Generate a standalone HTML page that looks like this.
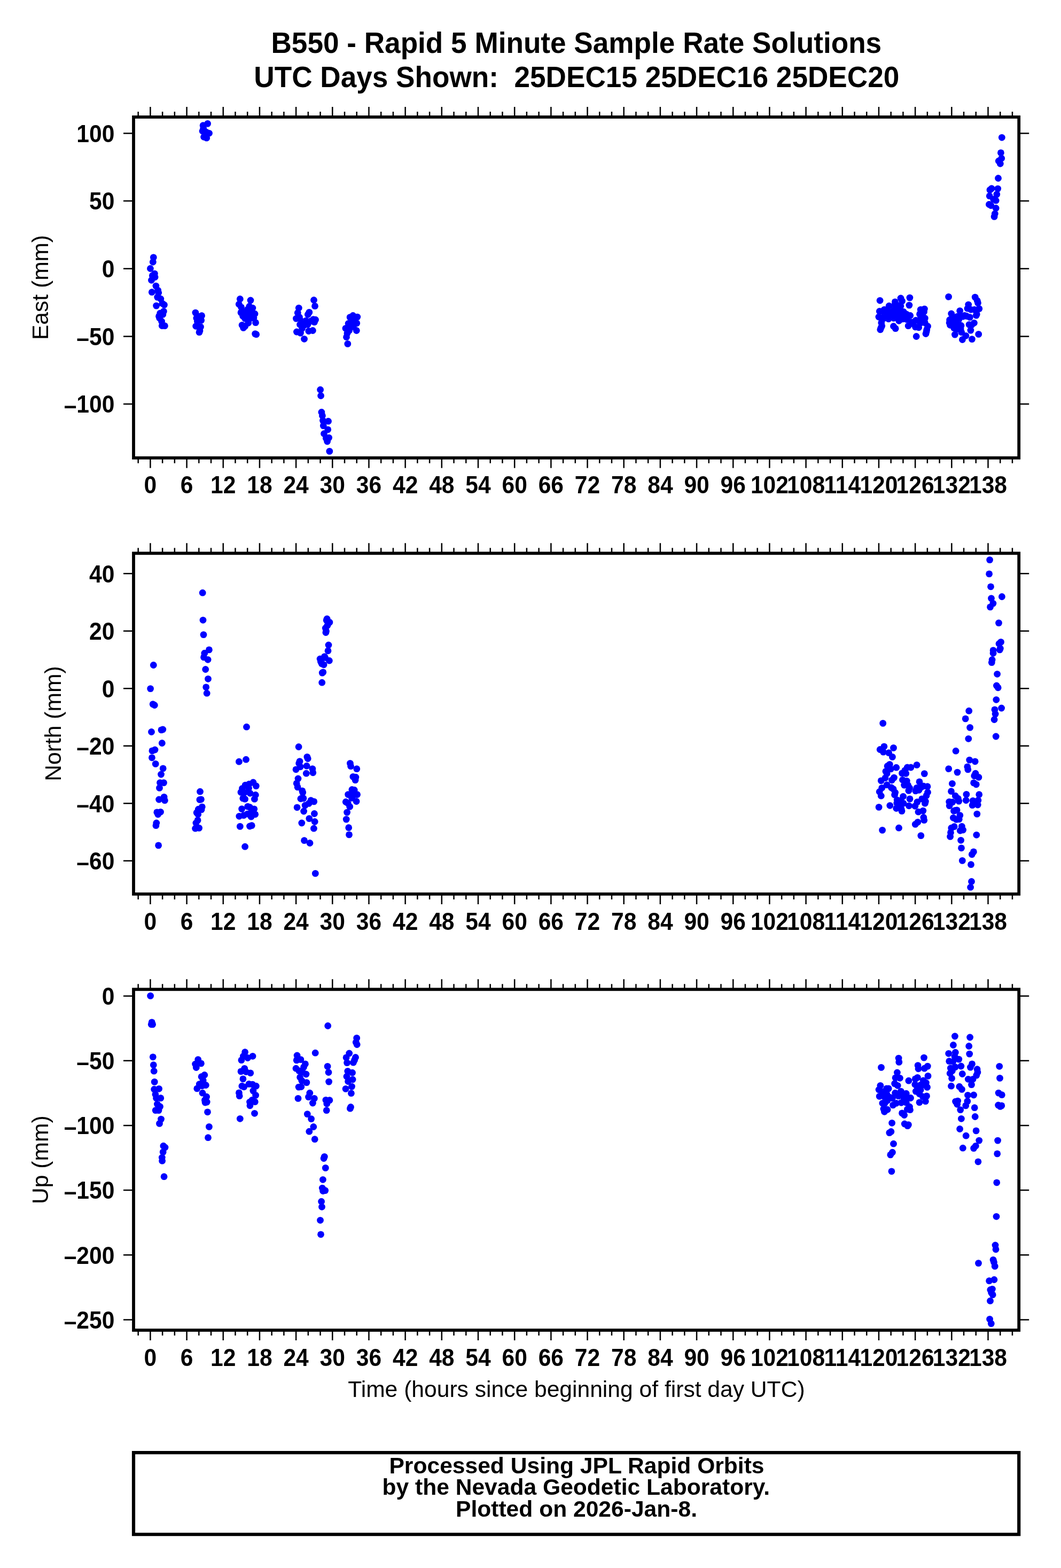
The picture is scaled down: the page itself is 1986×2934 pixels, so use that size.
<!DOCTYPE html>
<html lang="en"><head><meta charset="utf-8"><title>B550 - Rapid 5 Minute Sample Rate Solutions</title>
<style>html,body{margin:0;padding:0;background:#fff}svg{display:block}text{font-family:"Liberation Sans",sans-serif;fill:#000}.b{font-weight:bold}.f{fill:none;stroke:#000;stroke-width:5.8;stroke-linejoin:miter}.t{stroke:#000;stroke-width:2.5;stroke-linecap:butt;fill:none}.d circle{fill:#0000ff}</style></head><body>
<svg width="1986" height="2934" viewBox="0 0 1986 2934" role="img" aria-label="B550 rapid 5 minute sample rate solutions: East, North and Up time series">
<rect width="1986" height="2934" fill="#fff"/>
<text class="b" transform="translate(1078.80 99.00) scale(1 1.05)" font-size="53.15" text-anchor="middle">B550 - Rapid 5 Minute Sample Rate Solutions</text>
<text class="b" transform="translate(1079.30 163.30) scale(1 1.05)" font-size="53.15" text-anchor="middle" xml:space="preserve" style="white-space:pre">UTC Days Shown:  25DEC15 25DEC16 25DEC20</text>
<g>
<g class="d"><circle cx="287.3" cy="481.6" r="6.4"/><circle cx="286.3" cy="490.3" r="6.4"/><circle cx="281.4" cy="502.5" r="6.4"/><circle cx="289.4" cy="512.1" r="6.4"/><circle cx="285.3" cy="515.7" r="6.4"/><circle cx="290.1" cy="518.5" r="6.4"/><circle cx="283.5" cy="524.3" r="6.4"/><circle cx="291.9" cy="535.1" r="6.4"/><circle cx="295.7" cy="543.4" r="6.4"/><circle cx="284.3" cy="546.7" r="6.4"/><circle cx="296.7" cy="548" r="6.4"/><circle cx="294.7" cy="556.1" r="6.4"/><circle cx="300.8" cy="559.2" r="6.4"/><circle cx="292.6" cy="572.1" r="6.4"/><circle cx="303.8" cy="567.8" r="6.4"/><circle cx="307.4" cy="570.4" r="6.4"/><circle cx="306.4" cy="582.6" r="6.4"/><circle cx="299.8" cy="586.1" r="6.4"/><circle cx="304.8" cy="588.4" r="6.4"/><circle cx="297.5" cy="591.7" r="6.4"/><circle cx="298.7" cy="595.3" r="6.4"/><circle cx="302.6" cy="601.4" r="6.4"/><circle cx="303.3" cy="609.5" r="6.4"/><circle cx="308.4" cy="609.7" r="6.4"/><circle cx="365.9" cy="585.1" r="6.4"/><circle cx="377.6" cy="590.7" r="6.4"/><circle cx="367.9" cy="595.3" r="6.4"/><circle cx="376.6" cy="599.4" r="6.4"/><circle cx="369.4" cy="601.4" r="6.4"/><circle cx="372" cy="592.2" r="6.4"/><circle cx="366.7" cy="610.3" r="6.4"/><circle cx="375.5" cy="611.6" r="6.4"/><circle cx="374" cy="618.7" r="6.4"/><circle cx="373" cy="621.7" r="6.4"/><circle cx="388.6" cy="231.4" r="6.4"/><circle cx="380.1" cy="234.7" r="6.4"/><circle cx="380.7" cy="240.4" r="6.4"/><circle cx="379.1" cy="245.2" r="6.4"/><circle cx="385.5" cy="246.8" r="6.4"/><circle cx="391.5" cy="249.3" r="6.4"/><circle cx="381.6" cy="256.3" r="6.4"/><circle cx="386.7" cy="258.2" r="6.4"/><circle cx="383.9" cy="252.5" r="6.4"/><circle cx="449.3" cy="559.5" r="6.4"/><circle cx="469" cy="562" r="6.4"/><circle cx="447.3" cy="569.2" r="6.4"/><circle cx="451.5" cy="574.8" r="6.4"/><circle cx="466.8" cy="573.2" r="6.4"/><circle cx="472.9" cy="576.3" r="6.4"/><circle cx="463.7" cy="578.8" r="6.4"/><circle cx="451" cy="584.9" r="6.4"/><circle cx="458.7" cy="582.9" r="6.4"/><circle cx="468.8" cy="584.9" r="6.4"/><circle cx="477" cy="587.2" r="6.4"/><circle cx="454.6" cy="591.5" r="6.4"/><circle cx="462.7" cy="590" r="6.4"/><circle cx="470.9" cy="592" r="6.4"/><circle cx="474.9" cy="595.1" r="6.4"/><circle cx="458.7" cy="596.1" r="6.4"/><circle cx="465.8" cy="598.2" r="6.4"/><circle cx="478.5" cy="603.7" r="6.4"/><circle cx="464.8" cy="604.3" r="6.4"/><circle cx="453.1" cy="608.3" r="6.4"/><circle cx="458.7" cy="610.4" r="6.4"/><circle cx="455.6" cy="613.4" r="6.4"/><circle cx="477.6" cy="624.6" r="6.4"/><circle cx="479.7" cy="625.7" r="6.4"/><circle cx="587.5" cy="561.5" r="6.4"/><circle cx="589.5" cy="572.7" r="6.4"/><circle cx="559.3" cy="576.3" r="6.4"/><circle cx="557.3" cy="585.4" r="6.4"/><circle cx="578.8" cy="584.4" r="6.4"/><circle cx="576.3" cy="588.5" r="6.4"/><circle cx="554.4" cy="596.1" r="6.4"/><circle cx="560.5" cy="593.6" r="6.4"/><circle cx="586.5" cy="597.6" r="6.4"/><circle cx="590.5" cy="598.2" r="6.4"/><circle cx="564.6" cy="601.2" r="6.4"/><circle cx="572.7" cy="600.2" r="6.4"/><circle cx="580.9" cy="601.2" r="6.4"/><circle cx="588.5" cy="602.7" r="6.4"/><circle cx="561.5" cy="607.3" r="6.4"/><circle cx="569.7" cy="608.3" r="6.4"/><circle cx="575.8" cy="607.3" r="6.4"/><circle cx="565.6" cy="614.4" r="6.4"/><circle cx="555.4" cy="621" r="6.4"/><circle cx="562.5" cy="623.1" r="6.4"/><circle cx="577.8" cy="619.5" r="6.4"/><circle cx="585.4" cy="618.5" r="6.4"/><circle cx="569.5" cy="634.3" r="6.4"/><circle cx="660.7" cy="590.5" r="6.4"/><circle cx="655.1" cy="593.6" r="6.4"/><circle cx="668.8" cy="593.1" r="6.4"/><circle cx="662.2" cy="598.2" r="6.4"/><circle cx="652.1" cy="605.3" r="6.4"/><circle cx="659.2" cy="604.3" r="6.4"/><circle cx="667.8" cy="604.8" r="6.4"/><circle cx="647" cy="614.4" r="6.4"/><circle cx="655.1" cy="612.4" r="6.4"/><circle cx="661.2" cy="611.4" r="6.4"/><circle cx="667.3" cy="618.5" r="6.4"/><circle cx="650" cy="623.6" r="6.4"/><circle cx="653.6" cy="618.5" r="6.4"/><circle cx="648.5" cy="630.7" r="6.4"/><circle cx="650.8" cy="643.4" r="6.4"/><circle cx="599.6" cy="729.2" r="6.4"/><circle cx="600.6" cy="740.5" r="6.4"/><circle cx="601.9" cy="771.2" r="6.4"/><circle cx="603.4" cy="777.9" r="6.4"/><circle cx="604.5" cy="787.1" r="6.4"/><circle cx="614.5" cy="788.2" r="6.4"/><circle cx="605.3" cy="796.6" r="6.4"/><circle cx="613.7" cy="803.8" r="6.4"/><circle cx="606.5" cy="811.5" r="6.4"/><circle cx="615.6" cy="819.1" r="6.4"/><circle cx="610.3" cy="819.9" r="6.4"/><circle cx="612.6" cy="826" r="6.4"/><circle cx="616.8" cy="844.4" r="6.4"/><circle cx="1647.1" cy="562.3" r="6.4"/><circle cx="1702.9" cy="557.1" r="6.4"/><circle cx="1701.9" cy="571.1" r="6.4"/><circle cx="1686" cy="558" r="6.4"/><circle cx="1688.5" cy="563.4" r="6.4"/><circle cx="1675.4" cy="564.9" r="6.4"/><circle cx="1664.1" cy="572.5" r="6.4"/><circle cx="1655.2" cy="579.4" r="6.4"/><circle cx="1646.3" cy="582.5" r="6.4"/><circle cx="1644.9" cy="593" r="6.4"/><circle cx="1649.8" cy="603.9" r="6.4"/><circle cx="1650.7" cy="610.1" r="6.4"/><circle cx="1647.8" cy="616.8" r="6.4"/><circle cx="1672.5" cy="610.5" r="6.4"/><circle cx="1676.2" cy="614.7" r="6.4"/><circle cx="1715.2" cy="629.5" r="6.4"/><circle cx="1733" cy="624.5" r="6.4"/><circle cx="1734.8" cy="616.8" r="6.4"/><circle cx="1736.6" cy="610.5" r="6.4"/><circle cx="1730.4" cy="578.1" r="6.4"/><circle cx="1723.2" cy="579.4" r="6.4"/><circle cx="1729.5" cy="583.4" r="6.4"/><circle cx="1721.5" cy="587.9" r="6.4"/><circle cx="1731.3" cy="595.4" r="6.4"/><circle cx="1703.7" cy="590.5" r="6.4"/><circle cx="1700.1" cy="609.7" r="6.4"/><circle cx="1713.5" cy="611.9" r="6.4"/><circle cx="1719.7" cy="612.8" r="6.4"/><circle cx="1714.3" cy="599.4" r="6.4"/><circle cx="1682.7" cy="600.3" r="6.4"/><circle cx="1663.2" cy="596.8" r="6.4"/><circle cx="1680.5" cy="571.8" r="6.4"/><circle cx="1685.9" cy="572.7" r="6.4"/><circle cx="1673.4" cy="579.8" r="6.4"/><circle cx="1682.3" cy="581.6" r="6.4"/><circle cx="1691.2" cy="583.4" r="6.4"/><circle cx="1664.5" cy="583.4" r="6.4"/><circle cx="1655.6" cy="587.9" r="6.4"/><circle cx="1673.4" cy="590.5" r="6.4"/><circle cx="1682.3" cy="591.4" r="6.4"/><circle cx="1691.2" cy="592.3" r="6.4"/><circle cx="1697.4" cy="597.6" r="6.4"/><circle cx="1664.5" cy="590.5" r="6.4"/><circle cx="1653.8" cy="595.9" r="6.4"/><circle cx="1722.4" cy="597.6" r="6.4"/><circle cx="1726.8" cy="590.5" r="6.4"/><circle cx="1731.3" cy="603.9" r="6.4"/><circle cx="1709" cy="605.7" r="6.4"/><circle cx="1722.4" cy="604.8" r="6.4"/><circle cx="1696.5" cy="587.9" r="6.4"/><circle cx="1775.6" cy="555.4" r="6.4"/><circle cx="1825.2" cy="556.1" r="6.4"/><circle cx="1829.2" cy="562.5" r="6.4"/><circle cx="1830.5" cy="566.9" r="6.4"/><circle cx="1812.7" cy="570.1" r="6.4"/><circle cx="1811" cy="577.2" r="6.4"/><circle cx="1832.8" cy="577.6" r="6.4"/><circle cx="1823.9" cy="579.4" r="6.4"/><circle cx="1796.7" cy="581.6" r="6.4"/><circle cx="1780.7" cy="587" r="6.4"/><circle cx="1828.3" cy="587.9" r="6.4"/><circle cx="1827.4" cy="590.1" r="6.4"/><circle cx="1802.5" cy="592.3" r="6.4"/><circle cx="1815.4" cy="593.6" r="6.4"/><circle cx="1787.4" cy="594.1" r="6.4"/><circle cx="1777.6" cy="598.5" r="6.4"/><circle cx="1794.5" cy="598.5" r="6.4"/><circle cx="1785.6" cy="602.1" r="6.4"/><circle cx="1823.4" cy="604.3" r="6.4"/><circle cx="1814.1" cy="607.4" r="6.4"/><circle cx="1818.5" cy="608.3" r="6.4"/><circle cx="1778.5" cy="608.3" r="6.4"/><circle cx="1790.1" cy="608.3" r="6.4"/><circle cx="1799" cy="609.2" r="6.4"/><circle cx="1785.6" cy="613.7" r="6.4"/><circle cx="1798.1" cy="615.4" r="6.4"/><circle cx="1816.9" cy="618.1" r="6.4"/><circle cx="1799.8" cy="621.7" r="6.4"/><circle cx="1787.4" cy="626.1" r="6.4"/><circle cx="1807.9" cy="628.3" r="6.4"/><circle cx="1831.7" cy="625.4" r="6.4"/><circle cx="1801.4" cy="635.5" r="6.4"/><circle cx="1819.4" cy="634.6" r="6.4"/><circle cx="1777.1" cy="603.9" r="6.4"/><circle cx="1875.3" cy="257.3" r="6.4"/><circle cx="1873.4" cy="285.9" r="6.4"/><circle cx="1874.7" cy="296.2" r="6.4"/><circle cx="1869.3" cy="301.2" r="6.4"/><circle cx="1872.3" cy="306.3" r="6.4"/><circle cx="1868.5" cy="333.5" r="6.4"/><circle cx="1856.1" cy="352.7" r="6.4"/><circle cx="1867.7" cy="353.1" r="6.4"/><circle cx="1853" cy="355.4" r="6.4"/><circle cx="1865.8" cy="363.6" r="6.4"/><circle cx="1852.2" cy="366.7" r="6.4"/><circle cx="1859.6" cy="372.9" r="6.4"/><circle cx="1864.2" cy="375.2" r="6.4"/><circle cx="1851.4" cy="382.5" r="6.4"/><circle cx="1854.9" cy="384.5" r="6.4"/><circle cx="1864.2" cy="389.5" r="6.4"/><circle cx="1862.3" cy="400" r="6.4"/><circle cx="1861.1" cy="405.4" r="6.4"/><circle cx="1817.3" cy="579.3" r="6.4"/><circle cx="1791.4" cy="592.5" r="6.4"/><circle cx="1798.5" cy="591.5" r="6.4"/><circle cx="1805.6" cy="590.5" r="6.4"/><circle cx="1809.2" cy="591.5" r="6.4"/><circle cx="1790.3" cy="614.9" r="6.4"/><circle cx="1789.8" cy="616.5" r="6.4"/><circle cx="1675" cy="570.2" r="6.4"/><circle cx="1672.7" cy="595.3" r="6.4"/><circle cx="1689.5" cy="596.9" r="6.4"/><circle cx="1706.3" cy="603" r="6.4"/><circle cx="1649.1" cy="613.3" r="6.4"/><circle cx="1734.1" cy="620.5" r="6.4"/><circle cx="1678.8" cy="590.8" r="6.4"/></g>
<path class="t" d="M258.67 219.00v-10M258.67 856.80v10M281.40 219.00v-19M281.40 856.80v19M304.13 219.00v-10M304.13 856.80v10M326.85 219.00v-10M326.85 856.80v10M349.58 219.00v-19M349.58 856.80v19M372.30 219.00v-10M372.30 856.80v10M395.03 219.00v-10M395.03 856.80v10M417.76 219.00v-19M417.76 856.80v19M440.48 219.00v-10M440.48 856.80v10M463.21 219.00v-10M463.21 856.80v10M485.93 219.00v-19M485.93 856.80v19M508.66 219.00v-10M508.66 856.80v10M531.39 219.00v-10M531.39 856.80v10M554.11 219.00v-19M554.11 856.80v19M576.84 219.00v-10M576.84 856.80v10M599.56 219.00v-10M599.56 856.80v10M622.29 219.00v-19M622.29 856.80v19M645.02 219.00v-10M645.02 856.80v10M667.74 219.00v-10M667.74 856.80v10M690.47 219.00v-19M690.47 856.80v19M713.19 219.00v-10M713.19 856.80v10M735.92 219.00v-10M735.92 856.80v10M758.65 219.00v-19M758.65 856.80v19M781.37 219.00v-10M781.37 856.80v10M804.10 219.00v-10M804.10 856.80v10M826.82 219.00v-19M826.82 856.80v19M849.55 219.00v-10M849.55 856.80v10M872.28 219.00v-10M872.28 856.80v10M895.00 219.00v-19M895.00 856.80v19M917.73 219.00v-10M917.73 856.80v10M940.45 219.00v-10M940.45 856.80v10M963.18 219.00v-19M963.18 856.80v19M985.91 219.00v-10M985.91 856.80v10M1008.63 219.00v-10M1008.63 856.80v10M1031.36 219.00v-19M1031.36 856.80v19M1054.08 219.00v-10M1054.08 856.80v10M1076.81 219.00v-10M1076.81 856.80v10M1099.54 219.00v-19M1099.54 856.80v19M1122.26 219.00v-10M1122.26 856.80v10M1144.99 219.00v-10M1144.99 856.80v10M1167.71 219.00v-19M1167.71 856.80v19M1190.44 219.00v-10M1190.44 856.80v10M1213.17 219.00v-10M1213.17 856.80v10M1235.89 219.00v-19M1235.89 856.80v19M1258.62 219.00v-10M1258.62 856.80v10M1281.34 219.00v-10M1281.34 856.80v10M1304.07 219.00v-19M1304.07 856.80v19M1326.80 219.00v-10M1326.80 856.80v10M1349.52 219.00v-10M1349.52 856.80v10M1372.25 219.00v-19M1372.25 856.80v19M1394.97 219.00v-10M1394.97 856.80v10M1417.70 219.00v-10M1417.70 856.80v10M1440.43 219.00v-19M1440.43 856.80v19M1463.15 219.00v-10M1463.15 856.80v10M1485.88 219.00v-10M1485.88 856.80v10M1508.60 219.00v-19M1508.60 856.80v19M1531.33 219.00v-10M1531.33 856.80v10M1554.06 219.00v-10M1554.06 856.80v10M1576.78 219.00v-19M1576.78 856.80v19M1599.51 219.00v-10M1599.51 856.80v10M1622.23 219.00v-10M1622.23 856.80v10M1644.96 219.00v-19M1644.96 856.80v19M1667.69 219.00v-10M1667.69 856.80v10M1690.41 219.00v-10M1690.41 856.80v10M1713.14 219.00v-19M1713.14 856.80v19M1735.86 219.00v-10M1735.86 856.80v10M1758.59 219.00v-10M1758.59 856.80v10M1781.32 219.00v-19M1781.32 856.80v19M1804.04 219.00v-10M1804.04 856.80v10M1826.77 219.00v-10M1826.77 856.80v10M1849.49 219.00v-19M1849.49 856.80v19M1872.22 219.00v-10M1872.22 856.80v10M1894.95 219.00v-10M1894.95 856.80v10M250.00 249.40h-19M1907.20 249.40h19M250.00 376.08h-19M1907.20 376.08h19M250.00 502.75h-19M1907.20 502.75h19M250.00 629.43h-19M1907.20 629.43h19M250.00 756.10h-19M1907.20 756.10h19"/>
<rect class="f" x="250" y="219" width="1657.2" height="637.8"/>
<text class="b" transform="translate(214.40 265.70) scale(1 1.085)" font-size="42.6" text-anchor="end">100</text>
<text class="b" transform="translate(214.40 392.38) scale(1 1.085)" font-size="42.6" text-anchor="end">50</text>
<text class="b" transform="translate(214.40 519.05) scale(1 1.085)" font-size="42.6" text-anchor="end">0</text>
<text class="b" transform="translate(214.40 645.73) scale(1 1.085)" font-size="42.6" text-anchor="end"><tspan dy="1.7">–</tspan><tspan dy="-1.7">50</tspan></text>
<text class="b" transform="translate(214.40 772.40) scale(1 1.085)" font-size="42.6" text-anchor="end"><tspan dy="1.7">–</tspan><tspan dy="-1.7">100</tspan></text>
<text class="b" transform="translate(281.40 923.40) scale(1 1.085)" font-size="42.6" text-anchor="middle">0</text>
<text class="b" transform="translate(349.58 923.40) scale(1 1.085)" font-size="42.6" text-anchor="middle">6</text>
<text class="b" transform="translate(417.76 923.40) scale(1 1.085)" font-size="42.6" text-anchor="middle">12</text>
<text class="b" transform="translate(485.93 923.40) scale(1 1.085)" font-size="42.6" text-anchor="middle">18</text>
<text class="b" transform="translate(554.11 923.40) scale(1 1.085)" font-size="42.6" text-anchor="middle">24</text>
<text class="b" transform="translate(622.29 923.40) scale(1 1.085)" font-size="42.6" text-anchor="middle">30</text>
<text class="b" transform="translate(690.47 923.40) scale(1 1.085)" font-size="42.6" text-anchor="middle">36</text>
<text class="b" transform="translate(758.65 923.40) scale(1 1.085)" font-size="42.6" text-anchor="middle">42</text>
<text class="b" transform="translate(826.82 923.40) scale(1 1.085)" font-size="42.6" text-anchor="middle">48</text>
<text class="b" transform="translate(895.00 923.40) scale(1 1.085)" font-size="42.6" text-anchor="middle">54</text>
<text class="b" transform="translate(963.18 923.40) scale(1 1.085)" font-size="42.6" text-anchor="middle">60</text>
<text class="b" transform="translate(1031.36 923.40) scale(1 1.085)" font-size="42.6" text-anchor="middle">66</text>
<text class="b" transform="translate(1099.54 923.40) scale(1 1.085)" font-size="42.6" text-anchor="middle">72</text>
<text class="b" transform="translate(1167.71 923.40) scale(1 1.085)" font-size="42.6" text-anchor="middle">78</text>
<text class="b" transform="translate(1235.89 923.40) scale(1 1.085)" font-size="42.6" text-anchor="middle">84</text>
<text class="b" transform="translate(1304.07 923.40) scale(1 1.085)" font-size="42.6" text-anchor="middle">90</text>
<text class="b" transform="translate(1372.25 923.40) scale(1 1.085)" font-size="42.6" text-anchor="middle">96</text>
<text class="b" transform="translate(1440.43 923.40) scale(1 1.085)" font-size="42.6" text-anchor="middle">102</text>
<text class="b" transform="translate(1508.60 923.40) scale(1 1.085)" font-size="42.6" text-anchor="middle">108</text>
<text class="b" transform="translate(1576.78 923.40) scale(1 1.085)" font-size="42.6" text-anchor="middle">114</text>
<text class="b" transform="translate(1644.96 923.40) scale(1 1.085)" font-size="42.6" text-anchor="middle">120</text>
<text class="b" transform="translate(1713.14 923.40) scale(1 1.085)" font-size="42.6" text-anchor="middle">126</text>
<text class="b" transform="translate(1781.32 923.40) scale(1 1.085)" font-size="42.6" text-anchor="middle">132</text>
<text class="b" transform="translate(1849.49 923.40) scale(1 1.085)" font-size="42.6" text-anchor="middle">138</text>
<text transform="translate(89.60 537.90) rotate(-90) scale(1 1)" font-size="42.6" text-anchor="middle">East (mm)</text>
</g>
<g>
<g class="d"><circle cx="379.2" cy="1109.2" r="6.4"/><circle cx="380" cy="1160.3" r="6.4"/><circle cx="381" cy="1187.6" r="6.4"/><circle cx="391.4" cy="1215.9" r="6.4"/><circle cx="382.8" cy="1222.2" r="6.4"/><circle cx="381.5" cy="1229.9" r="6.4"/><circle cx="389.1" cy="1234.3" r="6.4"/><circle cx="384.7" cy="1252.5" r="6.4"/><circle cx="389.5" cy="1270.3" r="6.4"/><circle cx="385.7" cy="1285.8" r="6.4"/><circle cx="387.2" cy="1297.2" r="6.4"/><circle cx="287.3" cy="1244.5" r="6.4"/><circle cx="281.6" cy="1288.6" r="6.4"/><circle cx="286.2" cy="1317.6" r="6.4"/><circle cx="289.3" cy="1319.5" r="6.4"/><circle cx="283.5" cy="1369.5" r="6.4"/><circle cx="302" cy="1365.9" r="6.4"/><circle cx="304.8" cy="1365" r="6.4"/><circle cx="303.3" cy="1390.5" r="6.4"/><circle cx="290" cy="1403" r="6.4"/><circle cx="284.9" cy="1404.9" r="6.4"/><circle cx="284.4" cy="1417.8" r="6.4"/><circle cx="291.2" cy="1429.4" r="6.4"/><circle cx="305.2" cy="1437.9" r="6.4"/><circle cx="301.5" cy="1449" r="6.4"/><circle cx="299.5" cy="1464.6" r="6.4"/><circle cx="306.5" cy="1464.6" r="6.4"/><circle cx="298.5" cy="1474.4" r="6.4"/><circle cx="307.1" cy="1491.3" r="6.4"/><circle cx="297.6" cy="1496" r="6.4"/><circle cx="308.4" cy="1497.7" r="6.4"/><circle cx="300.5" cy="1519.3" r="6.4"/><circle cx="293.8" cy="1519.9" r="6.4"/><circle cx="295.7" cy="1523.8" r="6.4"/><circle cx="292.8" cy="1540" r="6.4"/><circle cx="291.9" cy="1544.7" r="6.4"/><circle cx="296.6" cy="1581.9" r="6.4"/><circle cx="374.5" cy="1481.2" r="6.4"/><circle cx="373.9" cy="1496.4" r="6.4"/><circle cx="376.4" cy="1495.8" r="6.4"/><circle cx="378.3" cy="1509.8" r="6.4"/><circle cx="371.3" cy="1514.2" r="6.4"/><circle cx="377.1" cy="1514.9" r="6.4"/><circle cx="368.2" cy="1520.6" r="6.4"/><circle cx="370.7" cy="1523.8" r="6.4"/><circle cx="370.1" cy="1534.9" r="6.4"/><circle cx="366.9" cy="1540" r="6.4"/><circle cx="365.6" cy="1550.2" r="6.4"/><circle cx="372.6" cy="1549.4" r="6.4"/><circle cx="447.4" cy="1425.2" r="6.4"/><circle cx="460.5" cy="1421.2" r="6.4"/><circle cx="473.9" cy="1464" r="6.4"/><circle cx="466.2" cy="1467.2" r="6.4"/><circle cx="459.2" cy="1469.1" r="6.4"/><circle cx="479.3" cy="1470.6" r="6.4"/><circle cx="453.5" cy="1475.4" r="6.4"/><circle cx="465.6" cy="1474.8" r="6.4"/><circle cx="451" cy="1482.4" r="6.4"/><circle cx="457.3" cy="1483.1" r="6.4"/><circle cx="468.1" cy="1484.3" r="6.4"/><circle cx="478.3" cy="1487.5" r="6.4"/><circle cx="454.8" cy="1493.9" r="6.4"/><circle cx="458.6" cy="1495.2" r="6.4"/><circle cx="476.4" cy="1495.2" r="6.4"/><circle cx="463.7" cy="1509.1" r="6.4"/><circle cx="467.5" cy="1510.4" r="6.4"/><circle cx="452.6" cy="1513.6" r="6.4"/><circle cx="475.8" cy="1513.8" r="6.4"/><circle cx="470.7" cy="1518.7" r="6.4"/><circle cx="463.1" cy="1523.1" r="6.4"/><circle cx="477.7" cy="1523.8" r="6.4"/><circle cx="456.1" cy="1525.7" r="6.4"/><circle cx="447.8" cy="1527.3" r="6.4"/><circle cx="470.1" cy="1528.2" r="6.4"/><circle cx="449.3" cy="1546.4" r="6.4"/><circle cx="467.5" cy="1546" r="6.4"/><circle cx="471.3" cy="1544.7" r="6.4"/><circle cx="458.6" cy="1584.2" r="6.4"/><circle cx="559.1" cy="1397.5" r="6.4"/><circle cx="574.9" cy="1416.3" r="6.4"/><circle cx="576.2" cy="1419.5" r="6.4"/><circle cx="561" cy="1424.6" r="6.4"/><circle cx="559.7" cy="1428.4" r="6.4"/><circle cx="574.1" cy="1433.2" r="6.4"/><circle cx="562.2" cy="1434.8" r="6.4"/><circle cx="584.9" cy="1438.6" r="6.4"/><circle cx="554" cy="1439.8" r="6.4"/><circle cx="585.8" cy="1445.8" r="6.4"/><circle cx="573.3" cy="1447.2" r="6.4"/><circle cx="558" cy="1457" r="6.4"/><circle cx="555.2" cy="1465.9" r="6.4"/><circle cx="557.1" cy="1472.9" r="6.4"/><circle cx="565.8" cy="1479.9" r="6.4"/><circle cx="566.7" cy="1483.1" r="6.4"/><circle cx="562.9" cy="1494.5" r="6.4"/><circle cx="568" cy="1493.9" r="6.4"/><circle cx="581.9" cy="1497.7" r="6.4"/><circle cx="587.7" cy="1499.9" r="6.4"/><circle cx="578.1" cy="1503.4" r="6.4"/><circle cx="571.1" cy="1507" r="6.4"/><circle cx="556.1" cy="1510.8" r="6.4"/><circle cx="568.6" cy="1518" r="6.4"/><circle cx="588.4" cy="1522.5" r="6.4"/><circle cx="578.8" cy="1531.6" r="6.4"/><circle cx="589.2" cy="1537.5" r="6.4"/><circle cx="564.8" cy="1540" r="6.4"/><circle cx="587.4" cy="1550.2" r="6.4"/><circle cx="569.5" cy="1572.7" r="6.4"/><circle cx="580" cy="1577.5" r="6.4"/><circle cx="590.3" cy="1634.4" r="6.4"/><circle cx="461.5" cy="1360.2" r="6.4"/><circle cx="612.1" cy="1158" r="6.4"/><circle cx="611.2" cy="1160.6" r="6.4"/><circle cx="616.9" cy="1164.4" r="6.4"/><circle cx="613.1" cy="1170.1" r="6.4"/><circle cx="609.3" cy="1175.2" r="6.4"/><circle cx="610.5" cy="1180.9" r="6.4"/><circle cx="609.9" cy="1183.5" r="6.4"/><circle cx="615" cy="1207" r="6.4"/><circle cx="614" cy="1217.8" r="6.4"/><circle cx="607.4" cy="1228.6" r="6.4"/><circle cx="599.1" cy="1233" r="6.4"/><circle cx="616.3" cy="1236.2" r="6.4"/><circle cx="600.4" cy="1238.1" r="6.4"/><circle cx="602.3" cy="1241.9" r="6.4"/><circle cx="606.1" cy="1243.8" r="6.4"/><circle cx="608.6" cy="1230.5" r="6.4"/><circle cx="604.8" cy="1257.8" r="6.4"/><circle cx="603.2" cy="1259.1" r="6.4"/><circle cx="602.7" cy="1277.2" r="6.4"/><circle cx="655.4" cy="1428.3" r="6.4"/><circle cx="656.6" cy="1433.7" r="6.4"/><circle cx="667.8" cy="1438.7" r="6.4"/><circle cx="660.9" cy="1453.4" r="6.4"/><circle cx="665.9" cy="1454.2" r="6.4"/><circle cx="665.1" cy="1459.6" r="6.4"/><circle cx="658.9" cy="1477.5" r="6.4"/><circle cx="663.2" cy="1478.2" r="6.4"/><circle cx="651.6" cy="1486.6" r="6.4"/><circle cx="658.2" cy="1486" r="6.4"/><circle cx="668.6" cy="1486.7" r="6.4"/><circle cx="662.4" cy="1487.5" r="6.4"/><circle cx="658.5" cy="1493.3" r="6.4"/><circle cx="667.1" cy="1499.5" r="6.4"/><circle cx="647.3" cy="1500.5" r="6.4"/><circle cx="651.2" cy="1503" r="6.4"/><circle cx="654.7" cy="1509.4" r="6.4"/><circle cx="649.6" cy="1520.1" r="6.4"/><circle cx="648.2" cy="1533.1" r="6.4"/><circle cx="652.7" cy="1548.7" r="6.4"/><circle cx="653.5" cy="1561.9" r="6.4"/><circle cx="1652.7" cy="1353.4" r="6.4"/><circle cx="1654.9" cy="1396.8" r="6.4"/><circle cx="1672.5" cy="1399.4" r="6.4"/><circle cx="1647.2" cy="1402.5" r="6.4"/><circle cx="1653.4" cy="1407.1" r="6.4"/><circle cx="1663.7" cy="1408.7" r="6.4"/><circle cx="1670.4" cy="1416.4" r="6.4"/><circle cx="1665.3" cy="1430.4" r="6.4"/><circle cx="1661.1" cy="1433.5" r="6.4"/><circle cx="1677.7" cy="1436.2" r="6.4"/><circle cx="1716.1" cy="1431.4" r="6.4"/><circle cx="1698.3" cy="1436" r="6.4"/><circle cx="1705" cy="1436" r="6.4"/><circle cx="1658" cy="1443.3" r="6.4"/><circle cx="1693.7" cy="1441.7" r="6.4"/><circle cx="1660.1" cy="1447.4" r="6.4"/><circle cx="1688.5" cy="1446.9" r="6.4"/><circle cx="1695.7" cy="1447.4" r="6.4"/><circle cx="1730.3" cy="1447.6" r="6.4"/><circle cx="1673.5" cy="1455.1" r="6.4"/><circle cx="1657" cy="1455.7" r="6.4"/><circle cx="1669.4" cy="1459.8" r="6.4"/><circle cx="1649.3" cy="1460.8" r="6.4"/><circle cx="1689.5" cy="1459.3" r="6.4"/><circle cx="1697.3" cy="1461.3" r="6.4"/><circle cx="1721" cy="1462.9" r="6.4"/><circle cx="1660.1" cy="1468.6" r="6.4"/><circle cx="1692.6" cy="1469.1" r="6.4"/><circle cx="1699.4" cy="1469.1" r="6.4"/><circle cx="1650.8" cy="1474.3" r="6.4"/><circle cx="1668.4" cy="1473.7" r="6.4"/><circle cx="1702.5" cy="1474.3" r="6.4"/><circle cx="1715.9" cy="1474.3" r="6.4"/><circle cx="1736" cy="1471.7" r="6.4"/><circle cx="1724.1" cy="1473.2" r="6.4"/><circle cx="1672" cy="1476.3" r="6.4"/><circle cx="1700.9" cy="1479.4" r="6.4"/><circle cx="1713.8" cy="1479.9" r="6.4"/><circle cx="1720" cy="1478.4" r="6.4"/><circle cx="1736.5" cy="1482.5" r="6.4"/><circle cx="1646.2" cy="1481.5" r="6.4"/><circle cx="1675.6" cy="1483" r="6.4"/><circle cx="1674.6" cy="1487.2" r="6.4"/><circle cx="1649.3" cy="1489.2" r="6.4"/><circle cx="1734" cy="1488.7" r="6.4"/><circle cx="1690.6" cy="1490.3" r="6.4"/><circle cx="1703" cy="1494.9" r="6.4"/><circle cx="1725.7" cy="1494.9" r="6.4"/><circle cx="1679.2" cy="1497" r="6.4"/><circle cx="1685.9" cy="1498" r="6.4"/><circle cx="1716.9" cy="1500.6" r="6.4"/><circle cx="1732.4" cy="1499.6" r="6.4"/><circle cx="1691.1" cy="1503.2" r="6.4"/><circle cx="1731.4" cy="1503.2" r="6.4"/><circle cx="1701.4" cy="1507.8" r="6.4"/><circle cx="1712.8" cy="1508.3" r="6.4"/><circle cx="1665.8" cy="1507.3" r="6.4"/><circle cx="1645.1" cy="1510.4" r="6.4"/><circle cx="1681.8" cy="1509.4" r="6.4"/><circle cx="1677.7" cy="1512.5" r="6.4"/><circle cx="1688" cy="1517.6" r="6.4"/><circle cx="1687" cy="1513.5" r="6.4"/><circle cx="1727.8" cy="1517.1" r="6.4"/><circle cx="1719" cy="1519.2" r="6.4"/><circle cx="1728.8" cy="1529.5" r="6.4"/><circle cx="1729.8" cy="1534.7" r="6.4"/><circle cx="1717.9" cy="1538.3" r="6.4"/><circle cx="1713.3" cy="1542.4" r="6.4"/><circle cx="1682.5" cy="1549.2" r="6.4"/><circle cx="1651.6" cy="1553.4" r="6.4"/><circle cx="1723.8" cy="1563.6" r="6.4"/><circle cx="1813.7" cy="1330.2" r="6.4"/><circle cx="1807.2" cy="1344.9" r="6.4"/><circle cx="1815.6" cy="1361.4" r="6.4"/><circle cx="1812.8" cy="1382.3" r="6.4"/><circle cx="1789.1" cy="1405.2" r="6.4"/><circle cx="1814.7" cy="1422.1" r="6.4"/><circle cx="1825.2" cy="1424.8" r="6.4"/><circle cx="1810.8" cy="1434.8" r="6.4"/><circle cx="1811.8" cy="1439.9" r="6.4"/><circle cx="1775.7" cy="1438.6" r="6.4"/><circle cx="1792" cy="1445.1" r="6.4"/><circle cx="1826" cy="1447.2" r="6.4"/><circle cx="1823.7" cy="1451.8" r="6.4"/><circle cx="1831.9" cy="1454.4" r="6.4"/><circle cx="1822.6" cy="1464.9" r="6.4"/><circle cx="1827.3" cy="1467.8" r="6.4"/><circle cx="1782.4" cy="1466.3" r="6.4"/><circle cx="1780.5" cy="1480.7" r="6.4"/><circle cx="1788.3" cy="1489.2" r="6.4"/><circle cx="1793.2" cy="1494.1" r="6.4"/><circle cx="1808.9" cy="1486.4" r="6.4"/><circle cx="1832.7" cy="1486.7" r="6.4"/><circle cx="1808.2" cy="1497.5" r="6.4"/><circle cx="1776.7" cy="1500.3" r="6.4"/><circle cx="1782.9" cy="1500.9" r="6.4"/><circle cx="1794.8" cy="1499.1" r="6.4"/><circle cx="1821.1" cy="1498.3" r="6.4"/><circle cx="1830.9" cy="1497.5" r="6.4"/><circle cx="1777.2" cy="1507.6" r="6.4"/><circle cx="1820.1" cy="1506.7" r="6.4"/><circle cx="1830.2" cy="1506" r="6.4"/><circle cx="1788" cy="1516.4" r="6.4"/><circle cx="1785.5" cy="1517.4" r="6.4"/><circle cx="1791.1" cy="1515.8" r="6.4"/><circle cx="1828.8" cy="1523.1" r="6.4"/><circle cx="1796.8" cy="1525.6" r="6.4"/><circle cx="1784.4" cy="1530.3" r="6.4"/><circle cx="1795.3" cy="1532.9" r="6.4"/><circle cx="1790.1" cy="1533.4" r="6.4"/><circle cx="1864.8" cy="1309.3" r="6.4"/><circle cx="1874.6" cy="1325" r="6.4"/><circle cx="1861.9" cy="1327.9" r="6.4"/><circle cx="1863.1" cy="1336.1" r="6.4"/><circle cx="1861.1" cy="1346.5" r="6.4"/><circle cx="1864.2" cy="1378" r="6.4"/><circle cx="1786.2" cy="1546.7" r="6.4"/><circle cx="1800.4" cy="1546.3" r="6.4"/><circle cx="1780.8" cy="1549.4" r="6.4"/><circle cx="1802.6" cy="1553" r="6.4"/><circle cx="1797.3" cy="1554.3" r="6.4"/><circle cx="1779.5" cy="1557.9" r="6.4"/><circle cx="1778.6" cy="1565.4" r="6.4"/><circle cx="1827.8" cy="1562.3" r="6.4"/><circle cx="1798.6" cy="1572.3" r="6.4"/><circle cx="1799.5" cy="1586.8" r="6.4"/><circle cx="1822.4" cy="1593.9" r="6.4"/><circle cx="1819.3" cy="1598.8" r="6.4"/><circle cx="1801.3" cy="1610.4" r="6.4"/><circle cx="1817.5" cy="1617.7" r="6.4"/><circle cx="1818.5" cy="1649.5" r="6.4"/><circle cx="1816.6" cy="1660.2" r="6.4"/><circle cx="1852.6" cy="1047.6" r="6.4"/><circle cx="1851.6" cy="1073.9" r="6.4"/><circle cx="1854.5" cy="1097.8" r="6.4"/><circle cx="1875.4" cy="1116.5" r="6.4"/><circle cx="1855.5" cy="1119.6" r="6.4"/><circle cx="1858.9" cy="1129.1" r="6.4"/><circle cx="1853.5" cy="1135.9" r="6.4"/><circle cx="1869.5" cy="1165.6" r="6.4"/><circle cx="1873.5" cy="1201.4" r="6.4"/><circle cx="1870" cy="1204.5" r="6.4"/><circle cx="1859.1" cy="1216.9" r="6.4"/><circle cx="1872.3" cy="1213.3" r="6.4"/><circle cx="1871.3" cy="1215.9" r="6.4"/><circle cx="1859.1" cy="1222.3" r="6.4"/><circle cx="1857.1" cy="1234.5" r="6.4"/><circle cx="1856.3" cy="1239.6" r="6.4"/><circle cx="1866.6" cy="1261.3" r="6.4"/><circle cx="1865.4" cy="1283" r="6.4"/><circle cx="1868.2" cy="1286.8" r="6.4"/><circle cx="1667.4" cy="1438.9" r="6.4"/><circle cx="1728.4" cy="1470.9" r="6.4"/><circle cx="1678.8" cy="1503" r="6.4"/></g>
<path class="t" d="M258.67 1035.30v-10M258.67 1672.90v10M281.40 1035.30v-19M281.40 1672.90v19M304.13 1035.30v-10M304.13 1672.90v10M326.85 1035.30v-10M326.85 1672.90v10M349.58 1035.30v-19M349.58 1672.90v19M372.30 1035.30v-10M372.30 1672.90v10M395.03 1035.30v-10M395.03 1672.90v10M417.76 1035.30v-19M417.76 1672.90v19M440.48 1035.30v-10M440.48 1672.90v10M463.21 1035.30v-10M463.21 1672.90v10M485.93 1035.30v-19M485.93 1672.90v19M508.66 1035.30v-10M508.66 1672.90v10M531.39 1035.30v-10M531.39 1672.90v10M554.11 1035.30v-19M554.11 1672.90v19M576.84 1035.30v-10M576.84 1672.90v10M599.56 1035.30v-10M599.56 1672.90v10M622.29 1035.30v-19M622.29 1672.90v19M645.02 1035.30v-10M645.02 1672.90v10M667.74 1035.30v-10M667.74 1672.90v10M690.47 1035.30v-19M690.47 1672.90v19M713.19 1035.30v-10M713.19 1672.90v10M735.92 1035.30v-10M735.92 1672.90v10M758.65 1035.30v-19M758.65 1672.90v19M781.37 1035.30v-10M781.37 1672.90v10M804.10 1035.30v-10M804.10 1672.90v10M826.82 1035.30v-19M826.82 1672.90v19M849.55 1035.30v-10M849.55 1672.90v10M872.28 1035.30v-10M872.28 1672.90v10M895.00 1035.30v-19M895.00 1672.90v19M917.73 1035.30v-10M917.73 1672.90v10M940.45 1035.30v-10M940.45 1672.90v10M963.18 1035.30v-19M963.18 1672.90v19M985.91 1035.30v-10M985.91 1672.90v10M1008.63 1035.30v-10M1008.63 1672.90v10M1031.36 1035.30v-19M1031.36 1672.90v19M1054.08 1035.30v-10M1054.08 1672.90v10M1076.81 1035.30v-10M1076.81 1672.90v10M1099.54 1035.30v-19M1099.54 1672.90v19M1122.26 1035.30v-10M1122.26 1672.90v10M1144.99 1035.30v-10M1144.99 1672.90v10M1167.71 1035.30v-19M1167.71 1672.90v19M1190.44 1035.30v-10M1190.44 1672.90v10M1213.17 1035.30v-10M1213.17 1672.90v10M1235.89 1035.30v-19M1235.89 1672.90v19M1258.62 1035.30v-10M1258.62 1672.90v10M1281.34 1035.30v-10M1281.34 1672.90v10M1304.07 1035.30v-19M1304.07 1672.90v19M1326.80 1035.30v-10M1326.80 1672.90v10M1349.52 1035.30v-10M1349.52 1672.90v10M1372.25 1035.30v-19M1372.25 1672.90v19M1394.97 1035.30v-10M1394.97 1672.90v10M1417.70 1035.30v-10M1417.70 1672.90v10M1440.43 1035.30v-19M1440.43 1672.90v19M1463.15 1035.30v-10M1463.15 1672.90v10M1485.88 1035.30v-10M1485.88 1672.90v10M1508.60 1035.30v-19M1508.60 1672.90v19M1531.33 1035.30v-10M1531.33 1672.90v10M1554.06 1035.30v-10M1554.06 1672.90v10M1576.78 1035.30v-19M1576.78 1672.90v19M1599.51 1035.30v-10M1599.51 1672.90v10M1622.23 1035.30v-10M1622.23 1672.90v10M1644.96 1035.30v-19M1644.96 1672.90v19M1667.69 1035.30v-10M1667.69 1672.90v10M1690.41 1035.30v-10M1690.41 1672.90v10M1713.14 1035.30v-19M1713.14 1672.90v19M1735.86 1035.30v-10M1735.86 1672.90v10M1758.59 1035.30v-10M1758.59 1672.90v10M1781.32 1035.30v-19M1781.32 1672.90v19M1804.04 1035.30v-10M1804.04 1672.90v10M1826.77 1035.30v-10M1826.77 1672.90v10M1849.49 1035.30v-19M1849.49 1672.90v19M1872.22 1035.30v-10M1872.22 1672.90v10M1894.95 1035.30v-10M1894.95 1672.90v10M250.00 1073.20h-19M1907.20 1073.20h19M250.00 1180.75h-19M1907.20 1180.75h19M250.00 1288.30h-19M1907.20 1288.30h19M250.00 1395.80h-19M1907.20 1395.80h19M250.00 1503.30h-19M1907.20 1503.30h19M250.00 1610.85h-19M1907.20 1610.85h19"/>
<rect class="f" x="250" y="1035.3" width="1657.2" height="637.6"/>
<text class="b" transform="translate(214.40 1089.50) scale(1 1.085)" font-size="42.6" text-anchor="end">40</text>
<text class="b" transform="translate(214.40 1197.05) scale(1 1.085)" font-size="42.6" text-anchor="end">20</text>
<text class="b" transform="translate(214.40 1304.60) scale(1 1.085)" font-size="42.6" text-anchor="end">0</text>
<text class="b" transform="translate(214.40 1412.10) scale(1 1.085)" font-size="42.6" text-anchor="end"><tspan dy="1.7">–</tspan><tspan dy="-1.7">20</tspan></text>
<text class="b" transform="translate(214.40 1519.60) scale(1 1.085)" font-size="42.6" text-anchor="end"><tspan dy="1.7">–</tspan><tspan dy="-1.7">40</tspan></text>
<text class="b" transform="translate(214.40 1627.15) scale(1 1.085)" font-size="42.6" text-anchor="end"><tspan dy="1.7">–</tspan><tspan dy="-1.7">60</tspan></text>
<text class="b" transform="translate(281.40 1739.50) scale(1 1.085)" font-size="42.6" text-anchor="middle">0</text>
<text class="b" transform="translate(349.58 1739.50) scale(1 1.085)" font-size="42.6" text-anchor="middle">6</text>
<text class="b" transform="translate(417.76 1739.50) scale(1 1.085)" font-size="42.6" text-anchor="middle">12</text>
<text class="b" transform="translate(485.93 1739.50) scale(1 1.085)" font-size="42.6" text-anchor="middle">18</text>
<text class="b" transform="translate(554.11 1739.50) scale(1 1.085)" font-size="42.6" text-anchor="middle">24</text>
<text class="b" transform="translate(622.29 1739.50) scale(1 1.085)" font-size="42.6" text-anchor="middle">30</text>
<text class="b" transform="translate(690.47 1739.50) scale(1 1.085)" font-size="42.6" text-anchor="middle">36</text>
<text class="b" transform="translate(758.65 1739.50) scale(1 1.085)" font-size="42.6" text-anchor="middle">42</text>
<text class="b" transform="translate(826.82 1739.50) scale(1 1.085)" font-size="42.6" text-anchor="middle">48</text>
<text class="b" transform="translate(895.00 1739.50) scale(1 1.085)" font-size="42.6" text-anchor="middle">54</text>
<text class="b" transform="translate(963.18 1739.50) scale(1 1.085)" font-size="42.6" text-anchor="middle">60</text>
<text class="b" transform="translate(1031.36 1739.50) scale(1 1.085)" font-size="42.6" text-anchor="middle">66</text>
<text class="b" transform="translate(1099.54 1739.50) scale(1 1.085)" font-size="42.6" text-anchor="middle">72</text>
<text class="b" transform="translate(1167.71 1739.50) scale(1 1.085)" font-size="42.6" text-anchor="middle">78</text>
<text class="b" transform="translate(1235.89 1739.50) scale(1 1.085)" font-size="42.6" text-anchor="middle">84</text>
<text class="b" transform="translate(1304.07 1739.50) scale(1 1.085)" font-size="42.6" text-anchor="middle">90</text>
<text class="b" transform="translate(1372.25 1739.50) scale(1 1.085)" font-size="42.6" text-anchor="middle">96</text>
<text class="b" transform="translate(1440.43 1739.50) scale(1 1.085)" font-size="42.6" text-anchor="middle">102</text>
<text class="b" transform="translate(1508.60 1739.50) scale(1 1.085)" font-size="42.6" text-anchor="middle">108</text>
<text class="b" transform="translate(1576.78 1739.50) scale(1 1.085)" font-size="42.6" text-anchor="middle">114</text>
<text class="b" transform="translate(1644.96 1739.50) scale(1 1.085)" font-size="42.6" text-anchor="middle">120</text>
<text class="b" transform="translate(1713.14 1739.50) scale(1 1.085)" font-size="42.6" text-anchor="middle">126</text>
<text class="b" transform="translate(1781.32 1739.50) scale(1 1.085)" font-size="42.6" text-anchor="middle">132</text>
<text class="b" transform="translate(1849.49 1739.50) scale(1 1.085)" font-size="42.6" text-anchor="middle">138</text>
<text transform="translate(114.00 1354.10) rotate(-90) scale(1 1)" font-size="42.6" text-anchor="middle">North (mm)</text>
</g>
<g>
<g class="d"><circle cx="281.6" cy="1863.4" r="6.4"/><circle cx="284.2" cy="1912.9" r="6.4"/><circle cx="283.2" cy="1916.8" r="6.4"/><circle cx="285.6" cy="1916.9" r="6.4"/><circle cx="286.3" cy="1977.8" r="6.4"/><circle cx="287.3" cy="1992.7" r="6.4"/><circle cx="288.2" cy="2004.2" r="6.4"/><circle cx="289.2" cy="2024.4" r="6.4"/><circle cx="288.7" cy="2038.2" r="6.4"/><circle cx="297.6" cy="2037.3" r="6.4"/><circle cx="290.9" cy="2047.7" r="6.4"/><circle cx="292.5" cy="2054.7" r="6.4"/><circle cx="300.8" cy="2054.7" r="6.4"/><circle cx="294.4" cy="2066.1" r="6.4"/><circle cx="299.5" cy="2070.6" r="6.4"/><circle cx="291.2" cy="2077.6" r="6.4"/><circle cx="297" cy="2077.6" r="6.4"/><circle cx="301.5" cy="2094.1" r="6.4"/><circle cx="298.5" cy="2102.4" r="6.4"/><circle cx="370.7" cy="1982.6" r="6.4"/><circle cx="376.4" cy="1989.9" r="6.4"/><circle cx="365.6" cy="1991.1" r="6.4"/><circle cx="367.3" cy="1997.5" r="6.4"/><circle cx="382.8" cy="2011.5" r="6.4"/><circle cx="377.1" cy="2014.7" r="6.4"/><circle cx="380.2" cy="2021.6" r="6.4"/><circle cx="373.2" cy="2028.6" r="6.4"/><circle cx="385.3" cy="2030.5" r="6.4"/><circle cx="378.3" cy="2031.8" r="6.4"/><circle cx="368.8" cy="2036.9" r="6.4"/><circle cx="379" cy="2045.2" r="6.4"/><circle cx="386.6" cy="2052.2" r="6.4"/><circle cx="383.4" cy="2058.5" r="6.4"/><circle cx="387.2" cy="2062.1" r="6.4"/><circle cx="384.1" cy="2063" r="6.4"/><circle cx="388.5" cy="2080.8" r="6.4"/><circle cx="391.4" cy="2108.4" r="6.4"/><circle cx="389.5" cy="2128.7" r="6.4"/><circle cx="305.9" cy="2144.2" r="6.4"/><circle cx="309" cy="2147" r="6.4"/><circle cx="305.2" cy="2155.6" r="6.4"/><circle cx="303.3" cy="2166.1" r="6.4"/><circle cx="303.6" cy="2172.2" r="6.4"/><circle cx="307.1" cy="2201.7" r="6.4"/><circle cx="458.6" cy="1968.7" r="6.4"/><circle cx="473" cy="1976.3" r="6.4"/><circle cx="455.4" cy="1976.3" r="6.4"/><circle cx="463.7" cy="1979.5" r="6.4"/><circle cx="451.9" cy="1983.7" r="6.4"/><circle cx="457.7" cy="1999.4" r="6.4"/><circle cx="451" cy="2004.9" r="6.4"/><circle cx="460.5" cy="2005.5" r="6.4"/><circle cx="468.8" cy="2007.8" r="6.4"/><circle cx="454.9" cy="2018.9" r="6.4"/><circle cx="466" cy="2028.4" r="6.4"/><circle cx="472.6" cy="2029.1" r="6.4"/><circle cx="479.3" cy="2032.2" r="6.4"/><circle cx="452.9" cy="2032.2" r="6.4"/><circle cx="456.7" cy="2033.8" r="6.4"/><circle cx="473.9" cy="2041.1" r="6.4"/><circle cx="447.4" cy="2044.9" r="6.4"/><circle cx="448.2" cy="2050.7" r="6.4"/><circle cx="478.6" cy="2049.4" r="6.4"/><circle cx="467.5" cy="2062.1" r="6.4"/><circle cx="477.3" cy="2061.7" r="6.4"/><circle cx="467.9" cy="2068.8" r="6.4"/><circle cx="472" cy="2058.3" r="6.4"/><circle cx="476.5" cy="2083.3" r="6.4"/><circle cx="449.3" cy="2093.3" r="6.4"/><circle cx="556.1" cy="1975" r="6.4"/><circle cx="590.2" cy="1970.2" r="6.4"/><circle cx="555.2" cy="1983.9" r="6.4"/><circle cx="562.9" cy="1982.6" r="6.4"/><circle cx="571.4" cy="1990.9" r="6.4"/><circle cx="568.6" cy="1996.6" r="6.4"/><circle cx="554" cy="1999.2" r="6.4"/><circle cx="559.7" cy="2003.6" r="6.4"/><circle cx="566" cy="2005.5" r="6.4"/><circle cx="573" cy="2010" r="6.4"/><circle cx="561.6" cy="2015.7" r="6.4"/><circle cx="564.8" cy="2022.1" r="6.4"/><circle cx="573.9" cy="2025.6" r="6.4"/><circle cx="559.1" cy="2034.1" r="6.4"/><circle cx="563.8" cy="2033.5" r="6.4"/><circle cx="579.8" cy="2045.2" r="6.4"/><circle cx="577.5" cy="2052.6" r="6.4"/><circle cx="588.3" cy="2055.4" r="6.4"/><circle cx="558" cy="2055.4" r="6.4"/><circle cx="585.4" cy="2064" r="6.4"/><circle cx="575.3" cy="2084.6" r="6.4"/><circle cx="582.6" cy="2093.6" r="6.4"/><circle cx="586.8" cy="2108.5" r="6.4"/><circle cx="578.8" cy="2117.2" r="6.4"/><circle cx="589.2" cy="2131.7" r="6.4"/><circle cx="613.7" cy="1919.5" r="6.4"/><circle cx="613.1" cy="1995.4" r="6.4"/><circle cx="615" cy="2006.5" r="6.4"/><circle cx="615.6" cy="2024.1" r="6.4"/><circle cx="609.9" cy="2058.3" r="6.4"/><circle cx="616.9" cy="2058.7" r="6.4"/><circle cx="611.8" cy="2065.3" r="6.4"/><circle cx="611.2" cy="2077.7" r="6.4"/><circle cx="609.3" cy="2185.4" r="6.4"/><circle cx="607.3" cy="2164.3" r="6.4"/><circle cx="606.1" cy="2167.5" r="6.4"/><circle cx="604.4" cy="2207.3" r="6.4"/><circle cx="603.3" cy="2223.1" r="6.4"/><circle cx="608.7" cy="2227.6" r="6.4"/><circle cx="604.6" cy="2228.5" r="6.4"/><circle cx="601.6" cy="2248.2" r="6.4"/><circle cx="602.5" cy="2258.3" r="6.4"/><circle cx="599.5" cy="2283.3" r="6.4"/><circle cx="600.5" cy="2309.8" r="6.4"/><circle cx="667.7" cy="1942.4" r="6.4"/><circle cx="666.3" cy="1950.3" r="6.4"/><circle cx="668.2" cy="1954.5" r="6.4"/><circle cx="653.7" cy="1971" r="6.4"/><circle cx="648.1" cy="1978.9" r="6.4"/><circle cx="665.5" cy="1978.5" r="6.4"/><circle cx="663.6" cy="1983.6" r="6.4"/><circle cx="649.6" cy="1988.6" r="6.4"/><circle cx="661.3" cy="1988.2" r="6.4"/><circle cx="650.8" cy="2004.3" r="6.4"/><circle cx="659.5" cy="2007.2" r="6.4"/><circle cx="649" cy="2014.2" r="6.4"/><circle cx="660.1" cy="2020" r="6.4"/><circle cx="651.6" cy="2023.5" r="6.4"/><circle cx="658.5" cy="2033.1" r="6.4"/><circle cx="647.1" cy="2037.4" r="6.4"/><circle cx="657.4" cy="2045.7" r="6.4"/><circle cx="656.5" cy="2071.5" r="6.4"/><circle cx="655.4" cy="2074.2" r="6.4"/><circle cx="1682.1" cy="1980.1" r="6.4"/><circle cx="1682.8" cy="1987.4" r="6.4"/><circle cx="1729.5" cy="1979.1" r="6.4"/><circle cx="1649.5" cy="1997.4" r="6.4"/><circle cx="1718.1" cy="1993.6" r="6.4"/><circle cx="1736.3" cy="1995.1" r="6.4"/><circle cx="1719" cy="1999.8" r="6.4"/><circle cx="1730.3" cy="1999.2" r="6.4"/><circle cx="1679.4" cy="2007" r="6.4"/><circle cx="1737" cy="2013.4" r="6.4"/><circle cx="1717.4" cy="2016.3" r="6.4"/><circle cx="1676.1" cy="2016.8" r="6.4"/><circle cx="1684.4" cy="2017.3" r="6.4"/><circle cx="1700.9" cy="2022.2" r="6.4"/><circle cx="1713.3" cy="2018.9" r="6.4"/><circle cx="1728.3" cy="2022" r="6.4"/><circle cx="1733.4" cy="2026.1" r="6.4"/><circle cx="1674.6" cy="2027.6" r="6.4"/><circle cx="1712.8" cy="2029.2" r="6.4"/><circle cx="1723.1" cy="2030.2" r="6.4"/><circle cx="1680.2" cy="2031.3" r="6.4"/><circle cx="1647.9" cy="2031.3" r="6.4"/><circle cx="1735.5" cy="2034.4" r="6.4"/><circle cx="1659.6" cy="2036.9" r="6.4"/><circle cx="1663.2" cy="2036.9" r="6.4"/><circle cx="1645.1" cy="2039" r="6.4"/><circle cx="1686.4" cy="2042.1" r="6.4"/><circle cx="1714.3" cy="2042.1" r="6.4"/><circle cx="1723.1" cy="2039.5" r="6.4"/><circle cx="1675.6" cy="2045.2" r="6.4"/><circle cx="1696.3" cy="2046.2" r="6.4"/><circle cx="1660.1" cy="2047.8" r="6.4"/><circle cx="1721" cy="2046.7" r="6.4"/><circle cx="1646.2" cy="2051.4" r="6.4"/><circle cx="1734.5" cy="2050.9" r="6.4"/><circle cx="1656" cy="2052.9" r="6.4"/><circle cx="1681.8" cy="2050.9" r="6.4"/><circle cx="1691.1" cy="2052.9" r="6.4"/><circle cx="1704.5" cy="2054.5" r="6.4"/><circle cx="1727.2" cy="2051.9" r="6.4"/><circle cx="1670.4" cy="2055" r="6.4"/><circle cx="1732.4" cy="2060.7" r="6.4"/><circle cx="1721" cy="2062.8" r="6.4"/><circle cx="1661.1" cy="2059.1" r="6.4"/><circle cx="1651.9" cy="2064.3" r="6.4"/><circle cx="1677.7" cy="2064.3" r="6.4"/><circle cx="1687" cy="2063.3" r="6.4"/><circle cx="1696.3" cy="2063.3" r="6.4"/><circle cx="1671.5" cy="2067.9" r="6.4"/><circle cx="1702.5" cy="2071" r="6.4"/><circle cx="1653.9" cy="2075.1" r="6.4"/><circle cx="1661.1" cy="2076.2" r="6.4"/><circle cx="1703.5" cy="2076.7" r="6.4"/><circle cx="1698.3" cy="2075.7" r="6.4"/><circle cx="1655.5" cy="2080.3" r="6.4"/><circle cx="1688.5" cy="2082.9" r="6.4"/><circle cx="1692.6" cy="2086.5" r="6.4"/><circle cx="1669.6" cy="2101.3" r="6.4"/><circle cx="1693.2" cy="2103" r="6.4"/><circle cx="1700.4" cy="2104.6" r="6.4"/><circle cx="1698.8" cy="2106.6" r="6.4"/><circle cx="1667.9" cy="2117.5" r="6.4"/><circle cx="1664.8" cy="2119.6" r="6.4"/><circle cx="1672.5" cy="2140.2" r="6.4"/><circle cx="1670.4" cy="2156.2" r="6.4"/><circle cx="1666.8" cy="2160.9" r="6.4"/><circle cx="1668.9" cy="2191.8" r="6.4"/><circle cx="1787.4" cy="1939" r="6.4"/><circle cx="1815.6" cy="1941" r="6.4"/><circle cx="1784.4" cy="1955.5" r="6.4"/><circle cx="1813.7" cy="1957.5" r="6.4"/><circle cx="1775.7" cy="1971.3" r="6.4"/><circle cx="1788.3" cy="1969.2" r="6.4"/><circle cx="1814.7" cy="1972.1" r="6.4"/><circle cx="1787" cy="1977" r="6.4"/><circle cx="1794.8" cy="1982.1" r="6.4"/><circle cx="1776.7" cy="1985.7" r="6.4"/><circle cx="1783.9" cy="1986.3" r="6.4"/><circle cx="1819.5" cy="1990.9" r="6.4"/><circle cx="1798.9" cy="1995" r="6.4"/><circle cx="1816.4" cy="1997.1" r="6.4"/><circle cx="1779.3" cy="1998.6" r="6.4"/><circle cx="1788" cy="1996.6" r="6.4"/><circle cx="1829.1" cy="2000.7" r="6.4"/><circle cx="1782.4" cy="2003.8" r="6.4"/><circle cx="1829.9" cy="2006.4" r="6.4"/><circle cx="1778.2" cy="2008.5" r="6.4"/><circle cx="1801.3" cy="2009.5" r="6.4"/><circle cx="1827.8" cy="2012.1" r="6.4"/><circle cx="1781.6" cy="2017.8" r="6.4"/><circle cx="1812.3" cy="2019.3" r="6.4"/><circle cx="1821.1" cy="2019.3" r="6.4"/><circle cx="1818.5" cy="2029.6" r="6.4"/><circle cx="1780.5" cy="2032.2" r="6.4"/><circle cx="1795.8" cy="2033.2" r="6.4"/><circle cx="1800.4" cy="2038.4" r="6.4"/><circle cx="1811.5" cy="2049.3" r="6.4"/><circle cx="1822.6" cy="2049" r="6.4"/><circle cx="1792.7" cy="2060.1" r="6.4"/><circle cx="1788.6" cy="2061.1" r="6.4"/><circle cx="1810.8" cy="2060.6" r="6.4"/><circle cx="1791.7" cy="2066.3" r="6.4"/><circle cx="1807.7" cy="2068.9" r="6.4"/><circle cx="1824.2" cy="2072.7" r="6.4"/><circle cx="1797.7" cy="2076.6" r="6.4"/><circle cx="1825.2" cy="2089.5" r="6.4"/><circle cx="1799.4" cy="2093.3" r="6.4"/><circle cx="1796.6" cy="2112.5" r="6.4"/><circle cx="1827.1" cy="2115.9" r="6.4"/><circle cx="1808.2" cy="2125.2" r="6.4"/><circle cx="1832.7" cy="2134.1" r="6.4"/><circle cx="1826.3" cy="2144.3" r="6.4"/><circle cx="1802.3" cy="2148.2" r="6.4"/><circle cx="1822.6" cy="2148.6" r="6.4"/><circle cx="1870.7" cy="1995.3" r="6.4"/><circle cx="1871.5" cy="2017.4" r="6.4"/><circle cx="1869.1" cy="2045.1" r="6.4"/><circle cx="1875.3" cy="2048.7" r="6.4"/><circle cx="1868.6" cy="2068" r="6.4"/><circle cx="1874.8" cy="2068.9" r="6.4"/><circle cx="1872.2" cy="2070.4" r="6.4"/><circle cx="1867.6" cy="2134.1" r="6.4"/><circle cx="1866.7" cy="2158.9" r="6.4"/><circle cx="1830.9" cy="2173.8" r="6.4"/><circle cx="1865.7" cy="2212.8" r="6.4"/><circle cx="1865" cy="2276.3" r="6.4"/><circle cx="1863" cy="2330" r="6.4"/><circle cx="1864" cy="2337.8" r="6.4"/><circle cx="1859.1" cy="2357.4" r="6.4"/><circle cx="1860.5" cy="2361.8" r="6.4"/><circle cx="1862.2" cy="2369.4" r="6.4"/><circle cx="1831.5" cy="2363.6" r="6.4"/><circle cx="1860.9" cy="2394.5" r="6.4"/><circle cx="1851.6" cy="2396.7" r="6.4"/><circle cx="1857.4" cy="2412.1" r="6.4"/><circle cx="1853.8" cy="2413.5" r="6.4"/><circle cx="1858.2" cy="2422.8" r="6.4"/><circle cx="1855.6" cy="2418.8" r="6.4"/><circle cx="1853.5" cy="2434.2" r="6.4"/><circle cx="1852.6" cy="2468.4" r="6.4"/><circle cx="1855.3" cy="2476.6" r="6.4"/><circle cx="1652.1" cy="2042.7" r="6.4"/><circle cx="1665.9" cy="2053.4" r="6.4"/><circle cx="1697.1" cy="2054.9" r="6.4"/><circle cx="1655.9" cy="2064.8" r="6.4"/><circle cx="1726.1" cy="2030.5" r="6.4"/><circle cx="1717" cy="2034.3" r="6.4"/></g>
<path class="t" d="M258.67 1851.30v-10M258.67 2489.00v10M281.40 1851.30v-19M281.40 2489.00v19M304.13 1851.30v-10M304.13 2489.00v10M326.85 1851.30v-10M326.85 2489.00v10M349.58 1851.30v-19M349.58 2489.00v19M372.30 1851.30v-10M372.30 2489.00v10M395.03 1851.30v-10M395.03 2489.00v10M417.76 1851.30v-19M417.76 2489.00v19M440.48 1851.30v-10M440.48 2489.00v10M463.21 1851.30v-10M463.21 2489.00v10M485.93 1851.30v-19M485.93 2489.00v19M508.66 1851.30v-10M508.66 2489.00v10M531.39 1851.30v-10M531.39 2489.00v10M554.11 1851.30v-19M554.11 2489.00v19M576.84 1851.30v-10M576.84 2489.00v10M599.56 1851.30v-10M599.56 2489.00v10M622.29 1851.30v-19M622.29 2489.00v19M645.02 1851.30v-10M645.02 2489.00v10M667.74 1851.30v-10M667.74 2489.00v10M690.47 1851.30v-19M690.47 2489.00v19M713.19 1851.30v-10M713.19 2489.00v10M735.92 1851.30v-10M735.92 2489.00v10M758.65 1851.30v-19M758.65 2489.00v19M781.37 1851.30v-10M781.37 2489.00v10M804.10 1851.30v-10M804.10 2489.00v10M826.82 1851.30v-19M826.82 2489.00v19M849.55 1851.30v-10M849.55 2489.00v10M872.28 1851.30v-10M872.28 2489.00v10M895.00 1851.30v-19M895.00 2489.00v19M917.73 1851.30v-10M917.73 2489.00v10M940.45 1851.30v-10M940.45 2489.00v10M963.18 1851.30v-19M963.18 2489.00v19M985.91 1851.30v-10M985.91 2489.00v10M1008.63 1851.30v-10M1008.63 2489.00v10M1031.36 1851.30v-19M1031.36 2489.00v19M1054.08 1851.30v-10M1054.08 2489.00v10M1076.81 1851.30v-10M1076.81 2489.00v10M1099.54 1851.30v-19M1099.54 2489.00v19M1122.26 1851.30v-10M1122.26 2489.00v10M1144.99 1851.30v-10M1144.99 2489.00v10M1167.71 1851.30v-19M1167.71 2489.00v19M1190.44 1851.30v-10M1190.44 2489.00v10M1213.17 1851.30v-10M1213.17 2489.00v10M1235.89 1851.30v-19M1235.89 2489.00v19M1258.62 1851.30v-10M1258.62 2489.00v10M1281.34 1851.30v-10M1281.34 2489.00v10M1304.07 1851.30v-19M1304.07 2489.00v19M1326.80 1851.30v-10M1326.80 2489.00v10M1349.52 1851.30v-10M1349.52 2489.00v10M1372.25 1851.30v-19M1372.25 2489.00v19M1394.97 1851.30v-10M1394.97 2489.00v10M1417.70 1851.30v-10M1417.70 2489.00v10M1440.43 1851.30v-19M1440.43 2489.00v19M1463.15 1851.30v-10M1463.15 2489.00v10M1485.88 1851.30v-10M1485.88 2489.00v10M1508.60 1851.30v-19M1508.60 2489.00v19M1531.33 1851.30v-10M1531.33 2489.00v10M1554.06 1851.30v-10M1554.06 2489.00v10M1576.78 1851.30v-19M1576.78 2489.00v19M1599.51 1851.30v-10M1599.51 2489.00v10M1622.23 1851.30v-10M1622.23 2489.00v10M1644.96 1851.30v-19M1644.96 2489.00v19M1667.69 1851.30v-10M1667.69 2489.00v10M1690.41 1851.30v-10M1690.41 2489.00v10M1713.14 1851.30v-19M1713.14 2489.00v19M1735.86 1851.30v-10M1735.86 2489.00v10M1758.59 1851.30v-10M1758.59 2489.00v10M1781.32 1851.30v-19M1781.32 2489.00v19M1804.04 1851.30v-10M1804.04 2489.00v10M1826.77 1851.30v-10M1826.77 2489.00v10M1849.49 1851.30v-19M1849.49 2489.00v19M1872.22 1851.30v-10M1872.22 2489.00v10M1894.95 1851.30v-10M1894.95 2489.00v10M250.00 1863.70h-19M1907.20 1863.70h19M250.00 1984.84h-19M1907.20 1984.84h19M250.00 2105.98h-19M1907.20 2105.98h19M250.00 2227.12h-19M1907.20 2227.12h19M250.00 2348.26h-19M1907.20 2348.26h19M250.00 2469.40h-19M1907.20 2469.40h19"/>
<rect class="f" x="250" y="1851.3" width="1657.2" height="637.7"/>
<text class="b" transform="translate(214.40 1880.00) scale(1 1.085)" font-size="42.6" text-anchor="end">0</text>
<text class="b" transform="translate(214.40 2001.14) scale(1 1.085)" font-size="42.6" text-anchor="end"><tspan dy="1.7">–</tspan><tspan dy="-1.7">50</tspan></text>
<text class="b" transform="translate(214.40 2122.28) scale(1 1.085)" font-size="42.6" text-anchor="end"><tspan dy="1.7">–</tspan><tspan dy="-1.7">100</tspan></text>
<text class="b" transform="translate(214.40 2243.42) scale(1 1.085)" font-size="42.6" text-anchor="end"><tspan dy="1.7">–</tspan><tspan dy="-1.7">150</tspan></text>
<text class="b" transform="translate(214.40 2364.56) scale(1 1.085)" font-size="42.6" text-anchor="end"><tspan dy="1.7">–</tspan><tspan dy="-1.7">200</tspan></text>
<text class="b" transform="translate(214.40 2485.70) scale(1 1.085)" font-size="42.6" text-anchor="end"><tspan dy="1.7">–</tspan><tspan dy="-1.7">250</tspan></text>
<text class="b" transform="translate(281.40 2555.60) scale(1 1.085)" font-size="42.6" text-anchor="middle">0</text>
<text class="b" transform="translate(349.58 2555.60) scale(1 1.085)" font-size="42.6" text-anchor="middle">6</text>
<text class="b" transform="translate(417.76 2555.60) scale(1 1.085)" font-size="42.6" text-anchor="middle">12</text>
<text class="b" transform="translate(485.93 2555.60) scale(1 1.085)" font-size="42.6" text-anchor="middle">18</text>
<text class="b" transform="translate(554.11 2555.60) scale(1 1.085)" font-size="42.6" text-anchor="middle">24</text>
<text class="b" transform="translate(622.29 2555.60) scale(1 1.085)" font-size="42.6" text-anchor="middle">30</text>
<text class="b" transform="translate(690.47 2555.60) scale(1 1.085)" font-size="42.6" text-anchor="middle">36</text>
<text class="b" transform="translate(758.65 2555.60) scale(1 1.085)" font-size="42.6" text-anchor="middle">42</text>
<text class="b" transform="translate(826.82 2555.60) scale(1 1.085)" font-size="42.6" text-anchor="middle">48</text>
<text class="b" transform="translate(895.00 2555.60) scale(1 1.085)" font-size="42.6" text-anchor="middle">54</text>
<text class="b" transform="translate(963.18 2555.60) scale(1 1.085)" font-size="42.6" text-anchor="middle">60</text>
<text class="b" transform="translate(1031.36 2555.60) scale(1 1.085)" font-size="42.6" text-anchor="middle">66</text>
<text class="b" transform="translate(1099.54 2555.60) scale(1 1.085)" font-size="42.6" text-anchor="middle">72</text>
<text class="b" transform="translate(1167.71 2555.60) scale(1 1.085)" font-size="42.6" text-anchor="middle">78</text>
<text class="b" transform="translate(1235.89 2555.60) scale(1 1.085)" font-size="42.6" text-anchor="middle">84</text>
<text class="b" transform="translate(1304.07 2555.60) scale(1 1.085)" font-size="42.6" text-anchor="middle">90</text>
<text class="b" transform="translate(1372.25 2555.60) scale(1 1.085)" font-size="42.6" text-anchor="middle">96</text>
<text class="b" transform="translate(1440.43 2555.60) scale(1 1.085)" font-size="42.6" text-anchor="middle">102</text>
<text class="b" transform="translate(1508.60 2555.60) scale(1 1.085)" font-size="42.6" text-anchor="middle">108</text>
<text class="b" transform="translate(1576.78 2555.60) scale(1 1.085)" font-size="42.6" text-anchor="middle">114</text>
<text class="b" transform="translate(1644.96 2555.60) scale(1 1.085)" font-size="42.6" text-anchor="middle">120</text>
<text class="b" transform="translate(1713.14 2555.60) scale(1 1.085)" font-size="42.6" text-anchor="middle">126</text>
<text class="b" transform="translate(1781.32 2555.60) scale(1 1.085)" font-size="42.6" text-anchor="middle">132</text>
<text class="b" transform="translate(1849.49 2555.60) scale(1 1.085)" font-size="42.6" text-anchor="middle">138</text>
<text transform="translate(89.60 2170.15) rotate(-90) scale(1 1)" font-size="42.6" text-anchor="middle">Up (mm)</text>
</g>
<text transform="translate(1078.90 2614.10) scale(1 1)" font-size="42.6" text-anchor="middle">Time (hours since beginning of first day UTC)</text>
<rect class="f" x="250" y="2718.1" width="1657.2" height="153" style="stroke-width:6.2"/>
<text class="b" transform="translate(1079.50 2756.60) scale(1 1.015)" font-size="42.6" text-anchor="middle">Processed Using JPL Rapid Orbits</text>
<text class="b" transform="translate(1078.30 2796.80) scale(1 1.015)" font-size="42.6" text-anchor="middle">by the Nevada Geodetic Laboratory.</text>
<text class="b" transform="translate(1079.00 2837.50) scale(1 1.015)" font-size="42.6" text-anchor="middle">Plotted on 2026-Jan-8.</text>
</svg></body></html>
